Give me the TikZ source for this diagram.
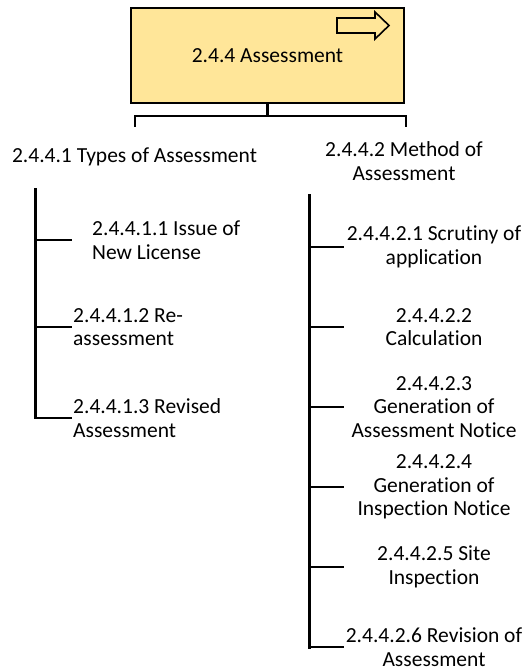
\documentclass[tikz,border=0pt]{standalone}
\usepackage{fontspec}
\setmainfont[Ligatures=NoCommon]{Carlito}
\usetikzlibrary{positioning}
\definecolor{boxyellow}{RGB}{255,230,153}

\begin{document}
\begin{tikzpicture}[x=1pt,y=-1pt,
    txt/.style={font=\fontsize{21.5}{23.6}\selectfont, inner sep=0pt},
    spine/.style={line width=3pt, line cap=rect},
    branch/.style={line width=2.3pt}]
  \useasboundingbox (0,0) rectangle (525,671);

  % Top box
  \node[txt, draw, line width=1.8pt, fill=boxyellow, minimum width=273pt, minimum height=95pt]
    (assess) at (267.5,55.5) {2.4.4 Assessment};
  \draw[line width=1.6pt, fill=boxyellow] (337,18) -- (375,18) -- (375,12) -- (389,25.5)
    -- (375,39) -- (375,33) -- (337,33) -- cycle;

  % Bracket
  \coordinate (brL) at (135,127);
  \coordinate (brR) at (406,127);
  \draw[branch] (assess.south) -- ++(0,13);
  \draw[branch] (brL) -- ++(0,-11) -| (brR);

  % Headings
  \node[txt] (types) at (134.5,157) {2.4.4.1 Types of Assessment};
  \node[txt, align=center] (method) at (404,161) {2.4.4.2 Method of\\Assessment};

  % Left branch
  \coordinate (ltop) at (35,189);
  \coordinate (lbot) at (35,417);
  \draw[spine] (ltop) -- (lbot);
  \foreach \n/\y/\x/\t in {1/240/92/{2.4.4.1.1 Issue of\\New License},
                           2/327/73/{2.4.4.1.2 Re-\\assessment},
                           3/418/73/{2.4.4.1.3 Revised\\Assessment}} {
    \node[txt, align=left, anchor=west] (t\n) at (\x,\y) {\t};
    \coordinate (lb\n) at (72,\y);
    \draw[branch] (ltop |- lb\n) -- (lb\n);
  }

  % Right branch
  \coordinate (rtop) at (309,195);
  \coordinate (rbot) at (309,647);
  \draw[spine] (rtop) -- (rbot);
  \foreach \n/\y/\t in {1/247/{2.4.4.2.1 Scrutiny of\\application},
                        2/327/{2.4.4.2.2\\Calculation},
                        3/407/{2.4.4.2.3\\Generation of\\Assessment Notice},
                        4/487/{2.4.4.2.4\\Generation of\\Inspection Notice},
                        5/567/{2.4.4.2.5 Site\\Inspection},
                        6/647/{2.4.4.2.6 Revision of\\Assessment}} {
    \node[txt, align=center] (m\n) at (434,\y) {\t};
    \coordinate (rb\n) at (344,\y);
    \draw[branch] (rtop |- rb\n) -- (rb\n);
  }
\end{tikzpicture}
\end{document}
